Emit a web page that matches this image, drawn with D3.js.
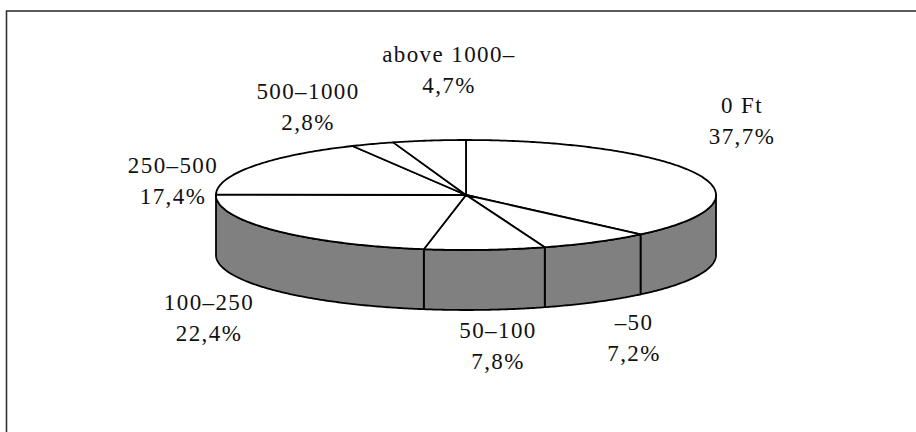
<!DOCTYPE html>
<html>
<head>
<meta charset="utf-8">
<script src="https://cdn.jsdelivr.net/npm/d3@7"></script>
<style>
  html, body { margin: 0; padding: 0; background: #fff; }
  svg { display: block; }
  text { font-family: "Liberation Serif", "Times New Roman", serif; font-size: 23px; letter-spacing: 1.4px; fill: #111; }
</style>
</head>
<body>
<svg id="chart" width="916" height="432"></svg>
<script>
// ---- data ----
const categories = ["0 Ft", "–50", "50–100", "100–250", "250–500", "500–1000", "above 1000–"];
const shares = [37.7, 7.2, 7.8, 22.4, 17.4, 2.8, 4.7];
const shareLabels = ["37,7%", "7,2%", "7,8%", "22,4%", "17,4%", "2,8%", "4,7%"];

// ---- layout (not data) ----
const W = 916, H = 432;
const cx = 466, cy = 195, rx = 250, ry = 55, depth = 60;
// label anchors: [center x, first baseline y]
const labelAnchors = [[742, 113], [634, 330], [498, 338], [209, 310], [173, 173], [308, 99], [449, 62]];
const lineGap = 30.5;

const svg = d3.select("#chart");
svg.append("rect").attr("width", W).attr("height", H).attr("fill", "#fff");
svg.append("rect").attr("x", 6.5).attr("y", 11).attr("width", W + 20).attr("height", H + 20)
  .attr("fill", "none").attr("stroke", "#333").attr("stroke-width", 1.6);

const pie = d3.pie().sort(null).value(d => d).startAngle(0).endAngle(2 * Math.PI);
const arcs = pie(shares);

// elliptical projection of a pie angle (clockwise from 12 o'clock)
const xS = d3.scaleLinear().domain([-1, 1]).range([cx - rx, cx + rx]);
const yS = d3.scaleLinear().domain([-1, 1]).range([cy - ry, cy + ry]);
const pt = (a, dz = 0) => [xS(Math.sin(a)), yS(-Math.cos(a)) + dz];
const samples = (a0, a1) => {
  const n = Math.max(2, Math.ceil(Math.abs(a1 - a0) / 0.01));
  return d3.range(n + 1).map(i => a0 + (a1 - a0) * i / n);
};
const line = d3.line();

const strokeW = 1.8;
const gSide = svg.append("g");
const gTop = svg.append("g");

// side walls (front half only)
arcs.forEach(d => {
  const a0 = Math.max(d.startAngle, Math.PI / 2);
  const a1 = Math.min(d.endAngle, 3 * Math.PI / 2);
  if (a1 <= a0) return;
  const top = samples(a0, a1).map(a => pt(a));
  const bot = samples(a0, a1).reverse().map(a => pt(a, depth));
  gSide.append("path")
    .attr("d", line(top.concat(bot)) + "Z")
    .attr("fill", "#808080")
    .attr("stroke", "#000")
    .attr("stroke-width", strokeW)
    .attr("stroke-linejoin", "round");
});

// top faces
arcs.forEach(d => {
  const pts = [[cx, cy]].concat(samples(d.startAngle, d.endAngle).map(a => pt(a)));
  gTop.append("path")
    .attr("d", line(pts) + "Z")
    .attr("fill", "#fff")
    .attr("stroke", "#000")
    .attr("stroke-width", strokeW)
    .attr("stroke-linejoin", "round");
});

// labels
const gLab = svg.append("g");
categories.forEach((c, i) => {
  const [x, y] = labelAnchors[i];
  const t = gLab.append("text").attr("text-anchor", "middle").attr("x", x).attr("y", y);
  t.append("tspan").attr("x", x).attr("y", y).text(c);
  t.append("tspan").attr("x", x).attr("y", y + lineGap).text(shareLabels[i]);
});
</script>
</body>
</html>
